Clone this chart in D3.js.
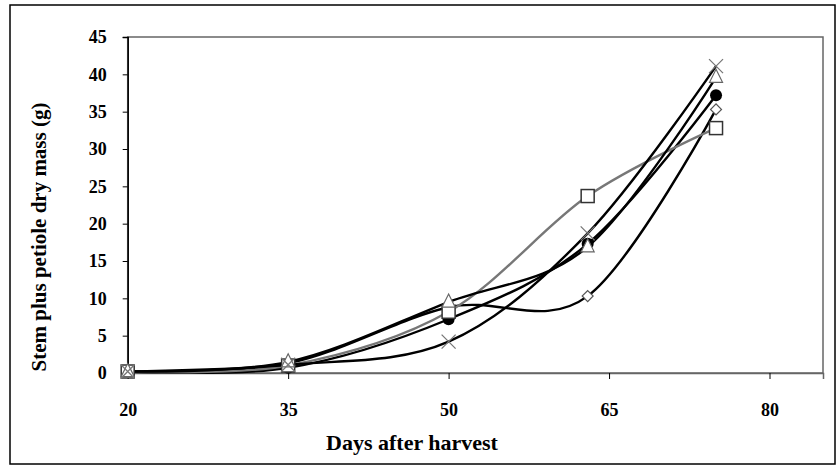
<!DOCTYPE html>
<html>
<head>
<meta charset="utf-8">
<script src="https://cdn.jsdelivr.net/npm/d3@7"></script>
<style>
  html, body { margin: 0; padding: 0; background: #fff; }
  svg { display: block; }
  text { font-family: "Liberation Serif", "Times New Roman", serif; font-weight: bold; fill: #000; }
</style>
</head>
<body>
<svg id="chart" width="839" height="467"></svg>
<script>
// ---- data ----
const days = [20, 35, 50, 63, 75];
const diamondSeries  = [0.2, 1.3, 8.8, 10.3, 35.3];
const squareSeries   = [0.2, 1.0, 8.2, 23.7, 32.8];
const triangleSeries = [0.2, 1.5, 9.5, 16.9, 39.6];
const crossSeries    = [0.2, 1.1, 4.2, 18.7, 41.1];
const circleSeries   = [0.2, 0.7, 7.2, 17.3, 37.2];
const xTicks = [20, 35, 50, 65, 80];
const yTicks = [0, 5, 10, 15, 20, 25, 30, 35, 40, 45];
const xTitle = "Days after harvest";
const yTitle = "Stem plus petiole dry mass (g)";

(function () {
const svg = d3.select("#chart");
const pLeft = 127.7, pRight = 823, pTop = 37, pBottom = 373;

// outer frame
svg.append("rect").attr("x", 10).attr("y", 5).attr("width", 825).attr("height", 459)
  .attr("fill", "none").attr("stroke", "#000").attr("stroke-width", 1.5);

const x = d3.scaleLinear().domain([20, 85]).range([pLeft, pRight]);
const y = d3.scaleLinear().domain([0, 45]).range([pBottom, pTop]);

// plot box
svg.append("rect").attr("x", pLeft).attr("y", pTop).attr("width", pRight - pLeft).attr("height", pBottom - pTop)
  .attr("fill", "none").attr("stroke", "#666").attr("stroke-width", 1.5);

// x axis
const xAxis = svg.append("g").attr("transform", `translate(0,${pBottom})`)
  .call(d3.axisBottom(x).tickValues(xTicks).tickSize(6).tickPadding(24).tickFormat(d3.format("d")));
xAxis.select(".domain").attr("stroke", "#666").attr("stroke-width", 1.5);
xAxis.selectAll(".tick line").attr("stroke", "#000").attr("stroke-width", 1);
xAxis.selectAll("text").style("font-size", "18px").style("font-family", "Liberation Serif").style("font-weight", "bold");

// y axis
const yAxis = svg.append("g").attr("transform", `translate(${pLeft},0)`)
  .call(d3.axisLeft(y).tickValues(yTicks).tickSize(5).tickPadding(16).tickFormat(d3.format("d")));
yAxis.select(".domain").attr("stroke", "#000").attr("stroke-width", 1.5);
yAxis.selectAll(".tick line").attr("stroke", "#000").attr("stroke-width", 1);
yAxis.selectAll("text").style("font-size", "18px").style("font-family", "Liberation Serif").style("font-weight", "bold");

// titles
svg.append("text").attr("x", 412).attr("y", 450).attr("text-anchor", "middle")
  .style("font-size", "22px").text(xTitle);
svg.append("text").attr("transform", "translate(46,237) rotate(-90)").attr("text-anchor", "middle")
  .style("font-size", "21px").text(yTitle);

const series = [
  { name: "circle",   vals: circleSeries,   line: "#000",  marker: "circle" },
  { name: "diamond",  vals: diamondSeries,  line: "#000",  marker: "diamond" },
  { name: "square",   vals: squareSeries,   line: "#777",  marker: "square" },
  { name: "triangle", vals: triangleSeries, line: "#000",  marker: "triangle" },
  { name: "cross",    vals: crossSeries,    line: "#000",  marker: "cross" }
];

const lineGen = d3.line().x(d => x(d[0])).y(d => y(d[1])).curve(d3.curveCardinal.tension(0));

const lines = svg.append("g");
series.forEach(s => {
  const pts = days.map((d, i) => [d, s.vals[i]]);
  lines.append("path").datum(pts).attr("d", lineGen)
    .attr("fill", "none").attr("stroke", s.line).attr("stroke-width", 2.4);
});

const marks = svg.append("g");
series.forEach(s => {
  const pts = days.map((d, i) => [d, s.vals[i]]);
  pts.forEach(p => {
    const cx = x(p[0]), cy = y(p[1]);
    if (s.marker === "circle") {
      marks.append("circle").attr("cx", cx).attr("cy", cy).attr("r", 6).attr("fill", "#000");
    } else if (s.marker === "diamond") {
      marks.append("path").attr("d", d3.symbol(d3.symbolSquare, 60)())
        .attr("transform", `translate(${cx},${cy}) rotate(45)`)
        .attr("fill", "#fff").attr("stroke", "#555").attr("stroke-width", 1.2);
    } else if (s.marker === "square") {
      marks.append("rect").attr("x", cx - 6.5).attr("y", cy - 6.5).attr("width", 13).attr("height", 13)
        .attr("fill", "#fff").attr("stroke", "#333").attr("stroke-width", 1.5);
    } else if (s.marker === "triangle") {
      marks.append("path").attr("d", `M${cx},${cy - 8}L${cx + 6.5},${cy + 5}L${cx - 6.5},${cy + 5}Z`)
        .attr("fill", "#fff").attr("stroke", "#666").attr("stroke-width", 1.2);
    } else if (s.marker === "cross") {
      const r = 7;
      marks.append("path").attr("d", `M${cx - r},${cy - r}L${cx + r},${cy + r}M${cx - r},${cy + r}L${cx + r},${cy - r}`)
        .attr("stroke", "#777").attr("stroke-width", 1.3).attr("fill", "none");
    }
  });
});
})();
</script>
</body>
</html>
